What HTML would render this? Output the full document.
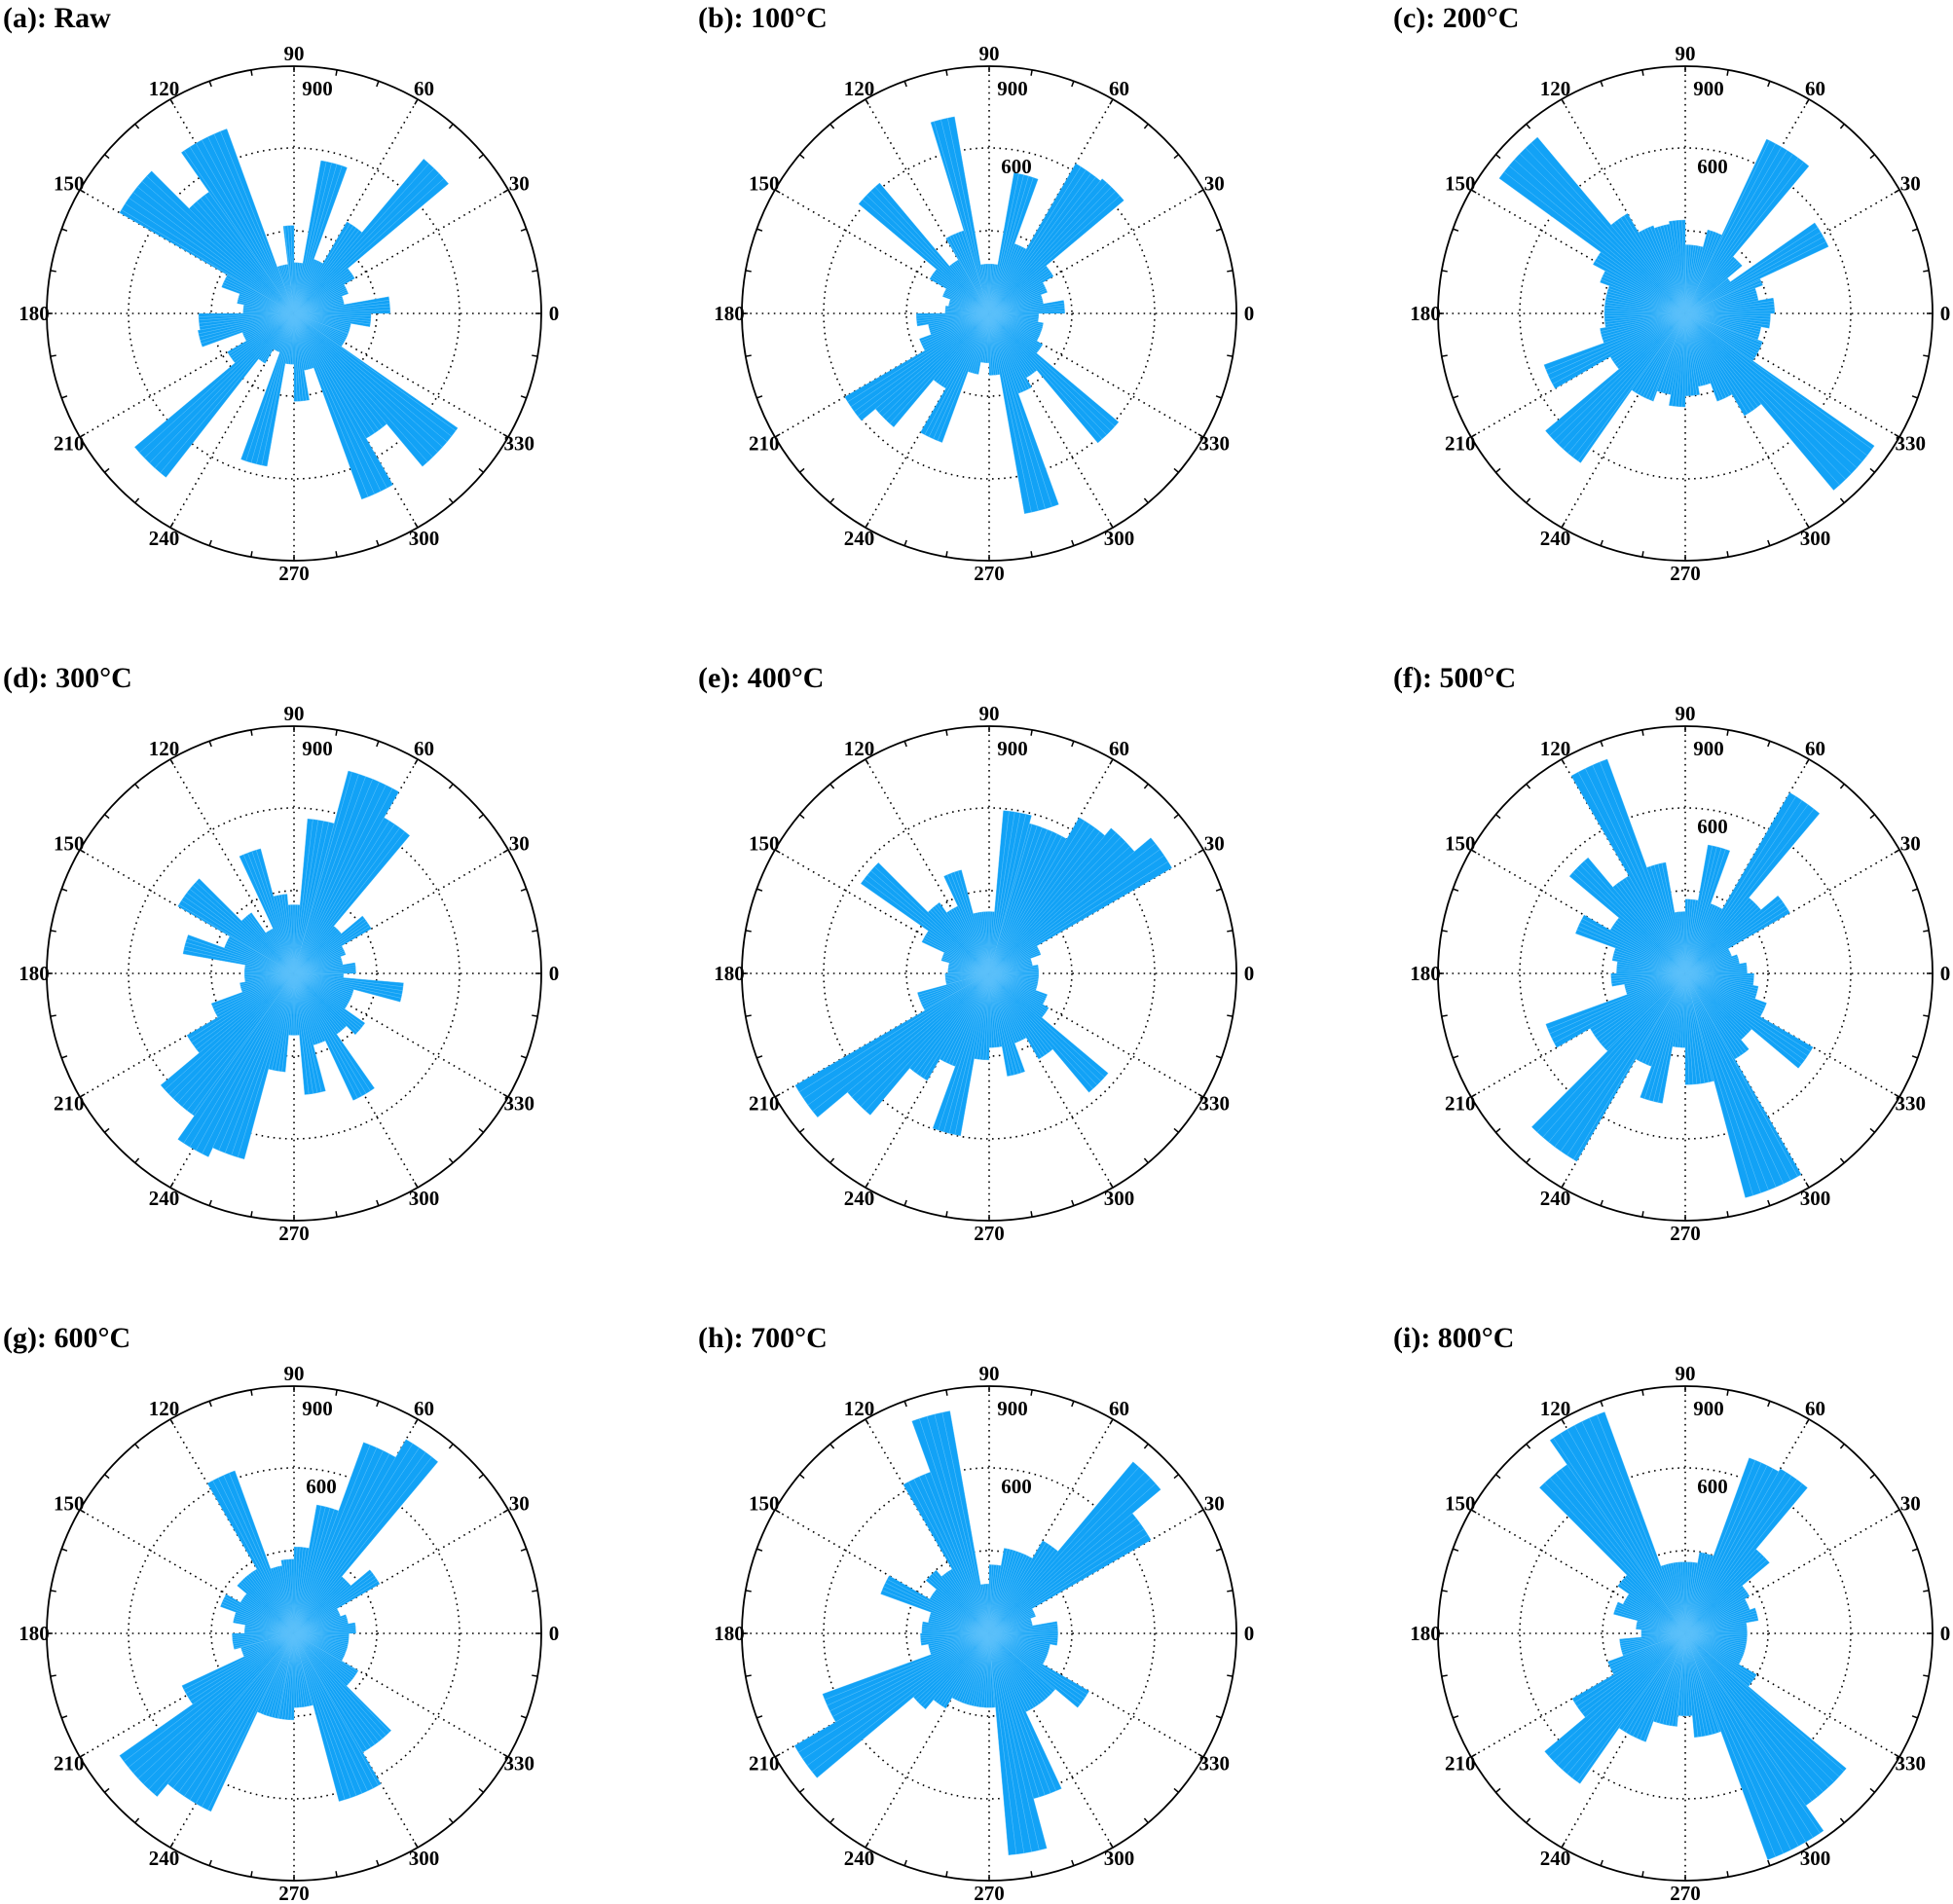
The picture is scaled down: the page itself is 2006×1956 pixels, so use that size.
<!DOCTYPE html>
<html><head><meta charset="utf-8"><style>
html,body{margin:0;padding:0;background:#fff;}
svg{display:block;}
text{font-family:"Liberation Serif",serif;font-weight:bold;fill:#000;}
</style></head><body>
<svg id="s" width="2006" height="1956" viewBox="0 0 2006 1956" xmlns="http://www.w3.org/2000/svg"></svg>
<script>
const NS="http://www.w3.org/2000/svg";
const S=document.getElementById('s');
function el(t,a,txt){const e=document.createElementNS(NS,t);for(const k in a)e.setAttribute(k,a[k]);if(txt!==undefined)e.textContent=txt;S.appendChild(e);return e;}
const R=254;
const panels=[
{t:"(a): Raw",l600:false,d:[[0,10,350],[10,20,185],[20,30,210],[30,40,255],[40,50,734],[50,60,385],[60,70,210],[70,80,565],[80,90,185],[90,97,320],[97,110,180],[110,125,715],[125,135,540],[135,150,733],[150,160,280],[160,170,210],[170,180,185],[180,190,347],[190,200,355],[200,210,200],[210,220,280],[220,232,757],[232,240,210],[240,250,150],[250,260,565],[260,270,185],[270,280,320],[280,290,210],[290,300,720],[300,310,525],[310,325,727],[325,340,210],[340,350,210],[350,360,280]]},
{t:"(b): 100°C",l600:true,d:[[0,10,275],[10,20,200],[20,30,225],[30,40,270],[40,50,640],[50,60,630],[60,70,270],[70,80,520],[80,90,180],[90,100,180],[100,107,727],[107,120,315],[120,130,225],[130,140,620],[140,150,250],[150,160,180],[160,170,150],[170,180,160],[180,190,265],[190,200,225],[200,210,270],[210,220,607],[220,230,540],[230,240,315],[240,250,500],[250,260,225],[260,270,180],[270,280,225],[280,290,740],[290,300,310],[300,310,270],[310,320,615],[320,330,225],[330,340,200],[340,350,200],[350,360,180]]},
{t:"(c): 200°C",l600:true,d:[[0,10,325],[10,20,270],[20,25,300],[25,35,575],[35,40,200],[40,50,270],[50,65,700],[65,75,315],[75,90,250],[90,100,340],[100,110,330],[110,120,340],[120,130,420],[130,144,837],[144,152,380],[152,160,330],[160,180,294],[180,190,294],[190,200,315],[200,210,547],[210,220,315],[220,235,664],[235,250,340],[250,260,300],[260,270,340],[270,280,300],[280,290,270],[290,300,340],[300,310,430],[310,325,840],[325,340,300],[340,350,280],[350,360,310]]},
{t:"(d): 300°C",l600:false,d:[[0,10,225],[10,20,180],[20,30,200],[30,40,325],[40,50,225],[50,60,655],[60,75,763],[75,85,565],[85,95,250],[95,105,290],[105,115,470],[115,125,180],[125,135,270],[135,150,488],[150,160,270],[160,170,410],[170,180,180],[180,190,180],[190,200,200],[200,210,320],[210,220,450],[220,235,633],[235,245,737],[245,255,700],[255,265,360],[265,275,225],[275,285,443],[285,295,270],[295,305,510],[305,315,270],[315,325,315],[325,345,225],[345,355,400],[355,360,180]]},
{t:"(e): 400°C",l600:false,d:[[0,10,180],[10,20,160],[20,30,200],[30,40,768],[40,50,690],[50,60,655],[60,75,565],[75,85,595],[85,95,225],[95,105,225],[105,115,390],[115,125,270],[125,135,315],[135,145,570],[145,155,270],[155,165,180],[165,180,150],[180,195,160],[195,210,270],[210,220,815],[220,230,673],[230,240,450],[240,250,360],[250,260,600],[260,270,315],[270,280,270],[280,290,380],[290,300,270],[300,310,360],[310,320,565],[320,330,250],[330,340,225],[340,350,180],[350,360,180]]},
{t:"(f): 500°C",l600:true,d:[[0,10,225],[10,20,200],[20,30,180],[30,40,440],[40,50,360],[50,60,760],[60,70,270],[70,80,475],[80,90,270],[90,100,225],[100,110,410],[110,120,830],[120,130,410],[130,140,550],[140,150,315],[150,160,425],[160,170,270],[170,180,250],[180,190,270],[190,200,225],[200,210,540],[210,225,400],[225,240,790],[240,250,360],[250,260,480],[260,270,270],[270,285,405],[285,300,845],[300,310,360],[310,320,315],[320,330,537],[330,340,315],[340,350,270],[350,360,250]]},
{t:"(g): 600°C",l600:true,d:[[0,10,225],[10,20,200],[20,30,180],[30,40,360],[40,50,270],[50,60,815],[60,70,740],[70,80,475],[80,90,315],[90,100,270],[100,110,250],[110,120,630],[120,130,270],[130,140,270],[140,150,225],[150,160,285],[160,170,225],[170,180,180],[180,195,225],[195,205,200],[205,215,450],[215,230,775],[230,245,715],[245,260,315],[260,270,315],[270,285,270],[285,300,633],[300,315,500],[315,330,270],[330,340,200],[340,350,200],[350,360,200]]},
{t:"(h): 700°C",l600:true,d:[[0,10,250],[10,20,160],[20,30,180],[30,40,680],[40,50,815],[50,60,390],[60,70,315],[70,80,315],[80,90,250],[90,100,180],[100,110,822],[110,120,625],[120,130,270],[130,140,300],[140,150,250],[150,160,420],[160,170,225],[170,180,245],[180,190,250],[190,200,225],[200,210,645],[210,220,818],[220,230,360],[230,240,315],[240,250,270],[250,260,270],[260,275,270],[275,285,810],[285,295,623],[295,305,315],[305,320,315],[320,330,420],[330,340,225],[340,350,225],[350,360,250]]},
{t:"(i): 800°C",l600:true,d:[[0,10,225],[10,20,270],[20,30,250],[30,40,270],[40,50,400],[50,60,692],[60,70,680],[70,80,300],[80,90,260],[90,100,260],[100,110,260],[110,125,858],[125,135,750],[135,145,300],[145,155,250],[155,165,270],[165,175,180],[175,185,160],[185,200,240],[200,210,300],[210,220,475],[220,235,668],[235,250,420],[250,265,340],[265,275,300],[275,290,380],[290,305,877],[305,320,765],[320,330,300],[330,340,225],[340,350,225],[350,360,225]]}
];
const cx=[302,1016,1731], cy=[322,1000,1678], tx=[3,717,1431], ty=[28,706,1384];
panels.forEach((p,i)=>{
  const c=i%3,r=Math.floor(i/3);const X=cx[c],Y=cy[r];
  el('text',{x:tx[c],y:ty[r],'font-size':30},p.t);
  [85,170].forEach(rr=>el('circle',{cx:X,cy:Y,r:rr,fill:'none',stroke:'#000','stroke-width':1.6,'stroke-dasharray':'1.6 4.5'}));
  for(let a=0;a<360;a+=30){const t=a*Math.PI/180;el('line',{x1:X,y1:Y,x2:X+R*Math.cos(t),y2:Y-R*Math.sin(t),stroke:'#000','stroke-width':1.6,'stroke-dasharray':'1.6 4.5'});}
  let d='';
  p.d.forEach(([a0,a1,v])=>{
    for(let a=a0;a<a1;a+=2){
      const b=Math.min(a+2,a1);const rr=v/900*R;
      const t0=a*Math.PI/180,t1=b*Math.PI/180;
      d+=`M${X},${Y}L${(X+rr*Math.cos(t0)).toFixed(1)},${(Y-rr*Math.sin(t0)).toFixed(1)}A${rr.toFixed(1)},${rr.toFixed(1)} 0 0 0 ${(X+rr*Math.cos(t1)).toFixed(1)},${(Y-rr*Math.sin(t1)).toFixed(1)}Z`;
    }
  });
  el('path',{d:d,fill:'#12a2f6',stroke:'#5cc0fa','stroke-width':0.4});
  el('circle',{cx:X,cy:Y,r:R,fill:'none',stroke:'#000','stroke-width':1.8});
  for(let a=0;a<360;a+=10){const t=a*Math.PI/180;el('line',{x1:X+R*Math.cos(t),y1:Y-R*Math.sin(t),x2:X+(R-6)*Math.cos(t),y2:Y-(R-6)*Math.sin(t),stroke:'#000','stroke-width':1.5});}
  for(let a=0;a<360;a+=30){const t=a*Math.PI/180;const lr=267;
    el('text',{x:X+lr*Math.cos(t),y:Y-lr*Math.sin(t)+7,'font-size':21,'text-anchor':'middle'},String(a));}
  el('text',{x:X+24,y:Y-224,'font-size':21,'text-anchor':'middle'},'900');
  if(p.l600)el('text',{x:X+28,y:Y-144,'font-size':21,'text-anchor':'middle'},'600');
});
</script>
</body></html>
